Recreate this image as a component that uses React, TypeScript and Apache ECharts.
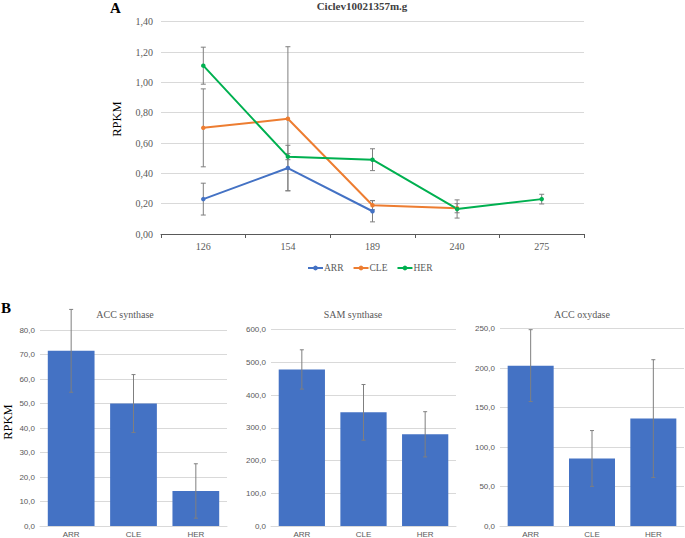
import React, { useEffect, useRef } from "react";
import * as echarts from "echarts";

// ---- Data: panel A (line chart) ----
const stages = ["126", "154", "189", "240", "275"];
const lineSeriesNames = ["ARR", "CLE", "HER"];
const arrValues = [0.23, 0.435, 0.15, null, null];
const arrErrors = [0.105, 0.15, 0.07, null, null];
const cleValues = [0.7, 0.76, 0.19, 0.17, null];
const cleErrors = [0.257, 0.475, 0.03, 0.03, null];
const herValues = [1.11, 0.51, 0.49, 0.165, 0.23];
const herErrors = [0.122, 0.02, 0.072, 0.06, 0.032];

// ---- Data: panel B (bar charts) ----
const groups = ["ARR", "CLE", "HER"];
const accSynthase = [71.5, 50.0, 14.3];
const accSynthaseErr = [16.9, 11.8, 11.1];
const samSynthase = [478, 347, 280];
const samSynthaseErr = [60, 85, 69];
const accOxydase = [203, 85.5, 136];
const accOxydaseErr = [45.5, 35.3, 74.5];

const lineColors = ["#4472c4", "#ed7d31", "#00b050"];
const barColor = "#4472c4";
const errColor = "#7f7f7f";
const serif = "Liberation Serif";
const sans = "Liberation Sans";

function errData(values: (number | null)[], errs: (number | null)[]) {
  const out: number[][] = [];
  values.forEach((v, i) => {
    const e = errs[i];
    if (v != null && e != null) out.push([i, v - e, v + e]);
  });
  return out;
}

function errSeries(name: string, data: number[][], axisIdx: number, cap: number, z: number) {
  return {
    type: "custom",
    name,
    xAxisIndex: axisIdx,
    yAxisIndex: axisIdx,
    clip: false,
    z,
    silent: true,
    data,
    encode: { x: 0, y: [1, 2] },
    renderItem: (_params: any, api: any) => {
      const x = api.value(0);
      const lo = api.coord([x, api.value(1)]);
      const hi = api.coord([x, api.value(2)]);
      const style = { stroke: errColor, lineWidth: 1 };
      return {
        type: "group",
        children: [
          { type: "line", shape: { x1: hi[0], y1: hi[1], x2: lo[0], y2: lo[1] }, style },
          { type: "line", shape: { x1: hi[0] - cap, y1: hi[1], x2: hi[0] + cap, y2: hi[1] }, style },
          { type: "line", shape: { x1: lo[0] - cap, y1: lo[1], x2: lo[0] + cap, y2: lo[1] }, style },
        ],
      };
    },
  };
}

const fmt = (d: number) => (v: number) => v.toFixed(d).replace(".", ",");

export default function App() {
  const ref = useRef<HTMLDivElement>(null);
  useEffect(() => {
    if (!ref.current) return;
    const chart = echarts.init(ref.current, null, { renderer: "svg" });

    const bottomY = (max: number, interval: number) => ({
      type: "value",
      min: 0,
      max,
      interval,
      axisLine: { show: false },
      axisTick: { show: false },
      axisLabel: { formatter: fmt(1), fontFamily: sans, fontSize: 8, color: "#595959", margin: 5 },
      splitLine: { lineStyle: { color: "#d9d9d9", width: 1 } },
    });
    const bottomX = (gi: number) => ({
      type: "category",
      gridIndex: gi,
      data: groups,
      axisLine: { lineStyle: { color: "#d9d9d9", width: 1 } },
      axisTick: { show: false },
      axisLabel: { fontFamily: sans, fontSize: 8, color: "#595959", margin: 4 },
    });

    const barSeries = (name: string, data: number[], idx: number) => ({
      type: "bar",
      name,
      xAxisIndex: idx,
      yAxisIndex: idx,
      data,
      barCategoryGap: "25%",
      itemStyle: { color: barColor },
      z: 2,
    });

    const lineSeries = (name: string, data: (number | null)[], color: string) => ({
      type: "line",
      name,
      data,
      xAxisIndex: 0,
      yAxisIndex: 0,
      symbol: "circle",
      symbolSize: 4.5,
      connectNulls: false,
      lineStyle: { color, width: 2 },
      itemStyle: { color },
      z: 3,
    });

    const subTitle = (text: string, x: number) => ({
      text,
      left: x,
      top: 309,
      padding: 0,
      textAlign: "center",
      textStyle: { fontFamily: serif, fontSize: 10, fontWeight: "normal", color: "#595959" },
    });

    const option: any = {
      animation: false,
      backgroundColor: "#ffffff",
      title: [
        {
          text: "Ciclev10021357m.g",
          left: 362,
          top: 0,
          padding: 0,
          textAlign: "center",
          textStyle: { fontFamily: serif, fontSize: 11, fontWeight: "bold", color: "#404040" },
        },
        subTitle("ACC synthase", 125),
        subTitle("SAM synthase", 353),
        subTitle("ACC oxydase", 582),
      ],
      legend: {
        data: lineSeriesNames,
        left: 302,
        top: 258,
        itemWidth: 15,
        itemHeight: 6,
        itemGap: 9,
        textStyle: { fontFamily: serif, fontSize: 9.5, color: "#595959", padding: [0, 0, 0, -4] },
      },
      graphic: [
        { type: "text", left: 110, top: 0, style: { text: "A", font: `bold 15px "${serif}"`, fill: "#000" } },
        { type: "text", left: 1, top: 300, style: { text: "B", font: `bold 15px "${serif}"`, fill: "#000" } },
        {
          type: "text",
          x: 117,
          y: 119,
          rotation: Math.PI / 2,
          style: { text: "RPKM", font: `12.5px "${serif}"`, fill: "#000", align: "center", verticalAlign: "middle" },
        },
        {
          type: "text",
          x: 8,
          y: 422,
          rotation: Math.PI / 2,
          style: { text: "RPKM", font: `12.5px "${serif}"`, fill: "#000", align: "center", verticalAlign: "middle" },
        },
      ],
      grid: [
        { left: 161, right: 101, top: 21.7, bottom: 304 },
        { left: 40, right: 458, top: 330, bottom: 11.5 },
        { left: 271, right: 229, top: 329.5, bottom: 11.5 },
        { left: 500, right: 1, top: 328.5, bottom: 12 },
      ],
      xAxis: [
        {
          type: "category",
          gridIndex: 0,
          data: stages,
          boundaryGap: true,
          axisLine: { lineStyle: { color: "#595959", width: 1 } },
          axisTick: { show: true, length: 4, lineStyle: { color: "#595959" } },
          axisLabel: { fontFamily: serif, fontSize: 10, color: "#595959", margin: 7 },
        },
        bottomX(1),
        bottomX(2),
        bottomX(3),
      ],
      yAxis: [
        {
          type: "value",
          gridIndex: 0,
          min: 0,
          max: 1.4,
          interval: 0.2,
          axisLine: { show: false },
          axisTick: { show: false },
          axisLabel: { formatter: fmt(2), fontFamily: serif, fontSize: 10, color: "#595959", margin: 8 },
          splitLine: { lineStyle: { color: "#d9d9d9", width: 1 } },
        },
        { ...bottomY(80, 10), gridIndex: 1 },
        { ...bottomY(600, 100), gridIndex: 2 },
        { ...bottomY(250, 50), gridIndex: 3 },
      ],
      series: [
        errSeries("errARR", errData(arrValues, arrErrors), 0, 2.5, 2),
        errSeries("errCLE", errData(cleValues, cleErrors), 0, 2.5, 2),
        errSeries("errHER", errData(herValues, herErrors), 0, 2.5, 2),
        lineSeries("ARR", arrValues, lineColors[0]),
        lineSeries("CLE", cleValues, lineColors[1]),
        lineSeries("HER", herValues, lineColors[2]),
        barSeries("ACC synthase", accSynthase, 1),
        errSeries("errAccS", errData(accSynthase, accSynthaseErr), 1, 2, 5),
        barSeries("SAM synthase", samSynthase, 2),
        errSeries("errSam", errData(samSynthase, samSynthaseErr), 2, 2, 5),
        barSeries("ACC oxydase", accOxydase, 3),
        errSeries("errAccO", errData(accOxydase, accOxydaseErr), 3, 2, 5),
      ],
    };
    chart.setOption(option);
    return () => chart.dispose();
  }, []);

  return (
    <div
      ref={ref}
      style={{ position: "absolute", left: 0, top: 0, width: 685, height: 538, background: "#fff" }}
    />
  );
}
